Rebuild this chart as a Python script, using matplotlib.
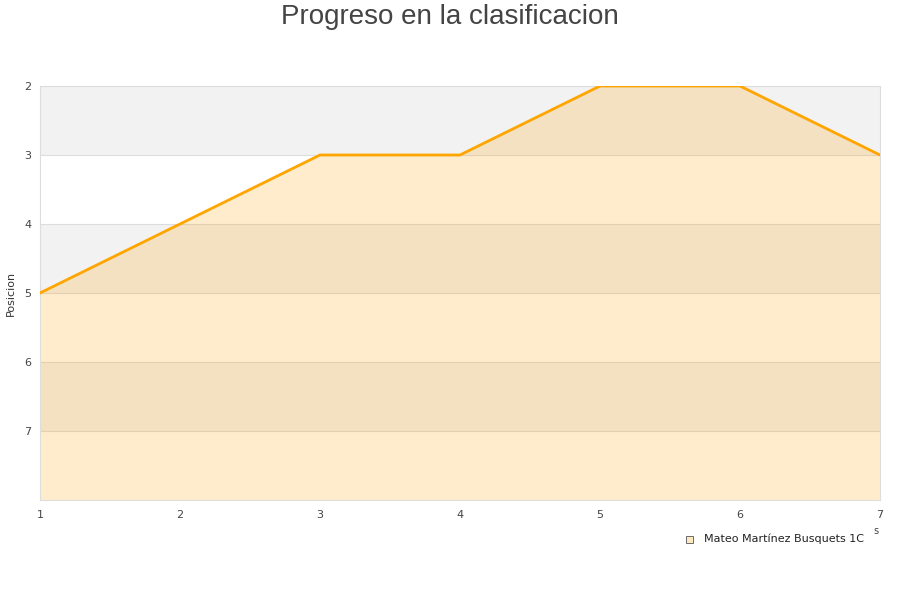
import matplotlib
matplotlib.use("Agg")
import matplotlib.pyplot as plt
from matplotlib.patches import Rectangle

# datos
jornadas = [1, 2, 3, 4, 5, 6, 7]
posicion = [5, 4, 3, 3, 2, 2, 3]
y_ticks = [2, 3, 4, 5, 6, 7]
nombre = "Mateo Martínez Busquets 1C"

fig = plt.figure(figsize=(9, 6), dpi=100)
ax = fig.add_axes([40/900, 100/600, 840/900, 414/600])

# bandas alternas
for y0 in [2, 4, 6]:
    ax.axhspan(y0, y0 + 1, color="#f2f2f2", zorder=0, lw=0)
for y in y_ticks[1:]:
    ax.axhline(y, color="#dddddd", lw=0.8, zorder=1)

ax.fill_between(jornadas, posicion, 8, color="#ffa000", alpha=0.2, lw=0, zorder=2)
ax.plot(jornadas, posicion, color="#ffa500", lw=2, zorder=3)

ax.set_xlim(1, 7)
ax.set_ylim(8, 2)
ax.set_xticks(jornadas)
ax.set_yticks(y_ticks)
ax.tick_params(length=0, labelsize=8, colors="#444444")
ax.tick_params(axis="y", pad=6)
ax.tick_params(axis="x", pad=7)
for s in ax.spines.values():
    s.set_color("#dddddd")
    s.set_linewidth(0.8)

ax.set_ylabel("Posicion", fontsize=8, color="#333333")
ax.yaxis.set_label_coords(-24/840, 0.5)

fig.text(0.5, 1 - 17/600, "Progreso en la clasificacion", ha="center", va="center",
         fontsize=20, color="#444444", family="Liberation Sans")

# leyenda
fig.patches.append(Rectangle((686/900, 1 - 543/600), 7/900, 7/600, transform=fig.transFigure,
                             facecolor="#ffe9c0", edgecolor="#555555", lw=0.6))
fig.text(704/900, 1 - 539/600, nombre, fontsize=8, va="center", color="#222222")
fig.text(876/900, 1 - 531/600, "s", fontsize=7, ha="center", va="center", color="#444444")

fig.savefig("out.png")
